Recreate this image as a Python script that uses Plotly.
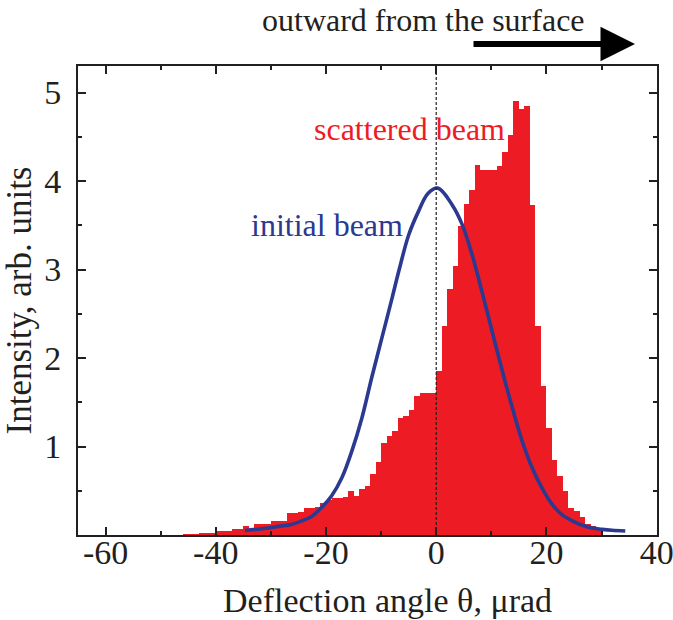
import plotly.graph_objects as go

# ---------------- data ----------------
# histogram of the scattered beam: left bin edges (µrad, width 1) and heights
bin_left = list(range(-46, 30))
scattered = [
    0.005, 0.01, 0.01, 0.02, 0.02, 0.02, 0.04, 0.04, 0.05, 0.07,
    0.07, 0.10, 0.07, 0.12, 0.12, 0.12, 0.16, 0.16, 0.16, 0.25,
    0.25, 0.26, 0.30, 0.30, 0.32, 0.36, 0.40, 0.42, 0.42, 0.43,
    0.50, 0.44, 0.52, 0.55, 0.69, 0.82, 1.04, 1.12, 1.17, 1.32,
    1.34, 1.41, 1.57, 1.61, 1.61, 1.61,
    1.85, 2.36, 2.78, 3.04, 3.49, 3.74, 3.90, 4.18, 4.13, 4.13,
    4.13, 4.17, 4.33, 4.52, 4.90, 4.81, 4.85, 3.73, 2.36, 1.68,
    1.21, 0.85, 0.67, 0.50, 0.31, 0.27, 0.20, 0.13, 0.10, 0.06,
]
bin_width = 1.0

# initial beam profile
initial_theta = [-34.7, -30.5, -28.4, -26.3, -24.4, -22.6, -20.8, -19.0, -17.1,
                 -15.3, -13.5, -11.7, -9.85, -8.0, -6.8, -5.0, -3.2, -1.5, 0.3,
                 2.9, 4.7, 6.5, 8.3, 10.15, 12.0, 13.8, 15.6, 17.4, 19.2, 21.0,
                 22.8, 24.7, 26.5, 28.3, 30.1, 31.9, 34.3]
initial_int = [0.05, 0.08, 0.10, 0.12, 0.16, 0.21, 0.31, 0.44, 0.65,
               0.95, 1.32, 1.78, 2.23, 2.68, 2.98, 3.39, 3.66, 3.86, 3.92,
               3.73, 3.51, 3.17, 2.75, 2.30, 1.85, 1.44, 1.06, 0.76, 0.53, 0.35,
               0.23, 0.16, 0.11, 0.08, 0.064, 0.053, 0.045]

x_tickvals = [-60, -40, -20, 0, 20, 40]
x_ticktext = ["-60", "-40", "-20", "0", "20", "40"]
y_tickvals = [1, 2, 3, 4, 5]
y_ticktext = ["1", "2", "3", "4", "5"]

RED = "#ED1C24"
BLUE = "#2B3990"
INK = "#231F20"
FONT = "Liberation Serif"

fig = go.Figure()
fig.add_trace(go.Bar(
    x=[b + bin_width / 2 for b in bin_left], y=scattered, width=bin_width,
    marker=dict(color=RED, line=dict(width=0)), showlegend=False,
))
fig.add_trace(go.Scatter(
    x=initial_theta, y=initial_int, mode="lines",
    line=dict(color=BLUE, width=3.6, shape="spline", smoothing=1.0),
    showlegend=False,
))

# dotted vertical line at zero
fig.add_shape(type="line", xref="x", yref="paper", x0=0, x1=0, y0=0, y1=1,
              line=dict(color=INK, width=1.2, dash="3px,2px"))

axis_common = dict(
    showline=True, linecolor=INK, linewidth=2, mirror="ticks",
    ticks="inside", ticklen=8, tickwidth=2, tickcolor=INK,
    showgrid=False, zeroline=False, ticklabeloverflow="allow",
    automargin=False,
    tickfont=dict(family=FONT, size=34, color=INK),
)

fig.update_xaxes(range=[-65, 40.06], tickmode="array", tickvals=x_tickvals,
                 ticktext=x_ticktext, ticklabelstandoff=-14,
                 minor=dict(ticks="inside", ticklen=4, tickwidth=2, tickcolor=INK,
                            dtick=10, tick0=0, showgrid=False),
                 **axis_common)
fig.update_yaxes(range=[0, 5.3], tickmode="array", tickvals=y_tickvals,
                 ticktext=y_ticktext, ticklabelstandoff=8,
                 minor=dict(ticks="inside", ticklen=4, tickwidth=2, tickcolor=INK,
                            dtick=0.5, tick0=0, showgrid=False),
                 title=dict(text="Intensity, arb. units", standoff=6,
                            font=dict(family=FONT, size=35, color=INK)),
                 **axis_common)

annotations = [
    dict(text="Deflection angle θ, μrad", xref="paper", yref="paper",
         x=(387 - 78) / 579, y=(535 - 600) / 469, showarrow=False,
         xanchor="center", yanchor="middle",
         font=dict(family=FONT, size=34, color=INK)),
    dict(text="scattered beam", xref="x", yref="y", x=-4.8, y=4.59,
         showarrow=False, xanchor="center", yanchor="middle",
         font=dict(family=FONT, size=32, color=RED)),
    dict(text="initial beam", xref="x", yref="y", x=-19.8, y=3.5,
         showarrow=False, xanchor="center", yanchor="middle",
         font=dict(family=FONT, size=32, color=BLUE)),
    dict(text="outward from the surface", xref="paper", yref="paper",
         x=(423 - 78) / 579, y=(535 - 20) / 469, showarrow=False,
         xanchor="center", yanchor="middle",
         font=dict(family=FONT, size=32, color=INK)),
    dict(text="", xref="paper", yref="paper",
         x=(635 - 78) / 579, y=(535 - 44) / 469,
         ax=-163, ay=0, showarrow=True, arrowhead=2, arrowsize=1.15,
         arrowwidth=6, arrowcolor="#000000", standoff=0),
]

fig.update_layout(
    width=673, height=620,
    margin=dict(l=78, r=16, t=66, b=85, autoexpand=False),
    paper_bgcolor="white", plot_bgcolor="white",
    bargap=0, annotations=annotations,
    font=dict(family=FONT, color=INK),
)

fig.write_html("out.html")
